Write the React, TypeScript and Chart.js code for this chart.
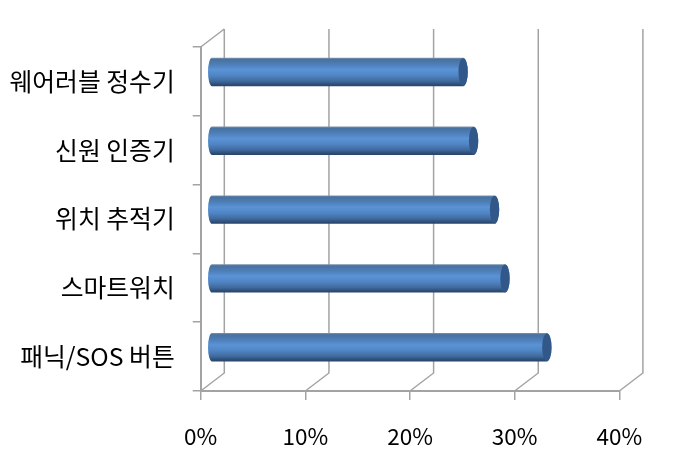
import React, { useEffect, useRef } from "react";
import { Chart, registerables } from "chart.js";

Chart.register(...registerables);

const categories = ["웨어러블 정수기", "신원 인증기", "위치 추적기", "스마트워치", "패닉/SOS 버튼"];
const shares = [25, 26, 28, 29, 33];
const axisTicks = [0, 10, 20, 30, 40];

const FONT = '"Noto Sans CJK KR", "Noto Sans", sans-serif';
const DEPTH_X = 23.6;
const DEPTH_Y = 18;
const LINE = "#a3a3a3";

const depthPlugin = {
  id: "depthWalls",
  beforeDatasetsDraw(chart: any) {
    const { ctx, chartArea, scales } = chart;
    const { top, bottom, left } = chartArea;
    ctx.save();
    ctx.strokeStyle = LINE;
    ctx.lineWidth = 1.5;
    ctx.beginPath();
    axisTicks.forEach((t) => {
      const x = scales.x.getPixelForValue(t);
      ctx.moveTo(x, bottom);
      ctx.lineTo(x + DEPTH_X, bottom - DEPTH_Y);
      ctx.lineTo(x + DEPTH_X, top - DEPTH_Y);
    });
    ctx.moveTo(left, top);
    ctx.lineTo(left + DEPTH_X, top - DEPTH_Y);
    ctx.stroke();
    ctx.restore();
  },
};

const cylinderPlugin = {
  id: "cylinders",
  beforeDatasetDraw(chart: any, args: any) {
    const { ctx, scales } = chart;
    const zero = scales.x.getPixelForValue(0);
    const meta = chart.getDatasetMeta(args.index);
    meta.data.forEach((bar: any) => {
      const h = 28.4;
      const cy = bar.y - DEPTH_Y / 2 - 0.4;
      const yTop = cy - h / 2;
      const yBot = cy + h / 2;
      const xL = zero + DEPTH_X / 2 - 0.5;
      const xR = bar.x + 0.8;
      const g = ctx.createLinearGradient(0, yTop, 0, yBot);
      g.addColorStop(0, "#7f93ab");
      g.addColorStop(0.06, "#48729f");
      g.addColorStop(0.22, "#4c7db6");
      g.addColorStop(0.42, "#5a93d6");
      g.addColorStop(0.62, "#5085c4");
      g.addColorStop(0.82, "#406a9e");
      g.addColorStop(0.95, "#2c4b73");
      g.addColorStop(1, "#2b4468");
      ctx.save();
      ctx.beginPath();
      ctx.moveTo(xL, yTop);
      ctx.lineTo(xR, yTop);
      ctx.ellipse(xR, cy, 4.7, h / 2, 0, -Math.PI / 2, Math.PI / 2);
      ctx.lineTo(xL, yBot);
      ctx.ellipse(xL, cy, 4, h / 2, 0, Math.PI / 2, (3 * Math.PI) / 2);
      ctx.closePath();
      ctx.fillStyle = g;
      ctx.fill();
      ctx.beginPath();
      ctx.ellipse(xR, cy, 4.7, h / 2 - 0.4, 0, 0, Math.PI * 2);
      ctx.fillStyle = "#32588a";
      ctx.fill();
      ctx.restore();
    });
    return false;
  },
};

export default function App() {
  const ref = useRef<HTMLCanvasElement>(null);
  useEffect(() => {
    const chart = new Chart(ref.current as HTMLCanvasElement, {
      type: "bar",
      data: {
        labels: categories,
        datasets: [{ data: shares, backgroundColor: "#4f81bd", barThickness: 28 }],
      },
      options: {
        indexAxis: "y",
        animation: false,
        responsive: false,
        layout: { padding: { top: 47, right: 64.7, left: 0, bottom: 0 } },
        plugins: { legend: { display: false }, tooltip: { enabled: false } },
        scales: {
          x: {
            min: 0,
            max: 40,
            afterFit(s: any) { s.height = 71; },
            ticks: {
              stepSize: 10,
              maxRotation: 0,
              padding: 23,
              color: "#000",
              font: { family: FONT, size: 22.5 },
              callback: (v: any) => v + "%",
            },
            grid: { drawOnChartArea: false, tickLength: 9, color: LINE, lineWidth: 1.5 },
            border: { color: LINE, width: 2 },
          },
          y: {
            afterFit(s: any) { s.width = 200.7; },
            ticks: {
              padding: 18,
              color: "#000",
              font: { family: FONT, size: 24.8 },
            },
            grid: { drawOnChartArea: false, tickLength: 8, color: LINE, lineWidth: 1.5, offset: true },
            border: { color: LINE, width: 2 },
          },
        },
      },
      plugins: [depthPlugin, cylinderPlugin],
    } as any);
    return () => chart.destroy();
  }, []);
  return (
    <div style={{ position: "absolute", left: 0, top: 0, width: 684, height: 462, background: "#fff" }}>
      <canvas ref={ref} width={684} height={462} style={{ display: "block", width: 684, height: 462 }} />
    </div>
  );
}
